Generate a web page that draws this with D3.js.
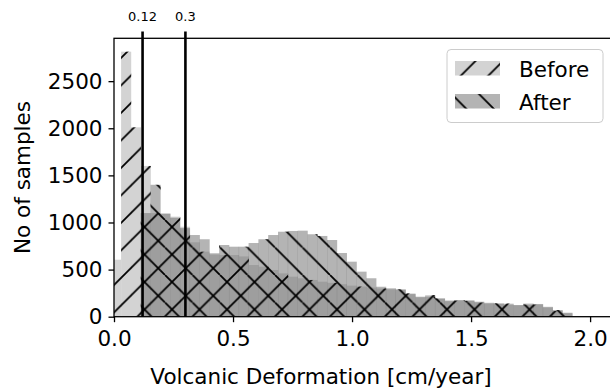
<!DOCTYPE html>
<html>
<head>
<meta charset="utf-8">
<script src="https://cdn.jsdelivr.net/npm/d3@7"></script>
<style>
  html, body { margin: 0; padding: 0; background: #fff; }
  svg text { font-family: "DejaVu Sans", sans-serif; fill: #000; }
</style>
</head>
<body>
<svg id="chart" width="610" height="389"></svg>
<script>
// Lower edges of the histogram bins (cm/year); the last entry closes the final bin
const binEdges = [-0.0114, 0.0298, 0.0710, 0.1122, 0.1534, 0.1946, 0.2358, 0.2770, 0.3182, 0.3594,
  0.4006, 0.4418, 0.4830, 0.5242, 0.5654, 0.6066, 0.6478, 0.6890, 0.7302, 0.7714,
  0.8126, 0.8538, 0.8950, 0.9362, 0.9774, 1.0186, 1.0598, 1.1010, 1.1422, 1.1834,
  1.2246, 1.2658, 1.3070, 1.3482, 1.3894, 1.4306, 1.4718, 1.5130, 1.5542, 1.5954,
  1.6366, 1.6778, 1.7190, 1.7602, 1.8014, 1.8426, 1.8838, 1.9250];

// Sample counts per bin
const beforeCounts = [605, 2813, 2010, 1600, 1100, 1100, 1062, 955, 790, 690,
  660, 655, 655, 640, 549, 531, 496, 460, 425, 408,
  390, 372, 360, 345, 330, 320, 310, 300, 290, 283,
  248, 205, 230, 190, 175, 170, 177, 150, 149, 135,
  140, 120, 142, 128, 106, 60, 35];
const afterCounts = [0, 0, 0, 1100, 1400, 1090, 1050, 940, 867, 822,
  673, 761, 743, 743, 782, 822, 867, 902, 910, 913,
  875, 857, 814, 676, 584, 478, 408, 318, 301, 291,
  240, 212, 215, 195, 165, 177, 168, 159, 142, 142,
  130, 124, 130, 135, 100, 71, 42];

const xTicks = [0.0, 0.5, 1.0, 1.5, 2.0];
const yTicks = [0, 500, 1000, 1500, 2000, 2500];
const thresholds = [0.12, 0.3];
const thresholdLabels = ["0.12", "0.3"];
const seriesNames = ["Before", "After"];

const svg = d3.select("#chart");
const margin = { left: 114, top: 38.3, right: 612, bottom: 316.7 };
const fontSize = 21.5;

const x = d3.scaleLinear().domain([0, 2.092]).range([margin.left, margin.right]);
const y = d3.scaleLinear().domain([0, 2955]).range([margin.bottom, margin.top]);

const defs = svg.append("defs");
defs.append("clipPath").attr("id", "plot-clip")
  .append("rect")
  .attr("x", margin.left).attr("y", margin.top)
  .attr("width", margin.right - margin.left).attr("height", margin.bottom - margin.top);

// Hatch patterns, anchored to the page so adjacent bars line up
const hatchSize = 27.5;
const hatchWidth = 1.8;
const fwd = defs.append("pattern").attr("id", "hatch-fwd")
  .attr("patternUnits", "userSpaceOnUse")
  .attr("width", hatchSize).attr("height", hatchSize)
  .attr("patternTransform", "translate(14,0)");
fwd.append("path")
  .attr("d", `M${-hatchSize},${hatchSize} L${hatchSize},${-hatchSize} M0,${2 * hatchSize} L${2 * hatchSize},0 M0,${hatchSize} L${hatchSize},0`)
  .attr("stroke", "#000").attr("stroke-width", hatchWidth);
const back = defs.append("pattern").attr("id", "hatch-back")
  .attr("patternUnits", "userSpaceOnUse")
  .attr("width", hatchSize).attr("height", hatchSize);
back.append("path")
  .attr("d", `M0,0 L${hatchSize},${hatchSize} M${-hatchSize},0 L0,${hatchSize} M${hatchSize},0 L${2 * hatchSize},${hatchSize}`)
  .attr("stroke", "#000").attr("stroke-width", hatchWidth);

const beforeBins = beforeCounts.map((v, i) => ({ x0: binEdges[i], x1: binEdges[i + 1], v }));
const afterBins = afterCounts.map((v, i) => ({ x0: binEdges[i], x1: binEdges[i + 1], v })).filter(d => d.v > 0);

const plot = svg.append("g").attr("clip-path", "url(#plot-clip)");

function bars(data, cls, fill, opacity) {
  plot.append("g").selectAll("rect." + cls)
    .data(data).join("rect")
    .attr("class", cls)
    .attr("x", d => x(d.x0))
    .attr("width", d => x(d.x1) - x(d.x0) + 0.3)
    .attr("y", d => y(d.v))
    .attr("height", d => y(0) - y(d.v))
    .attr("fill", fill)
    .attr("fill-opacity", opacity);
}

bars(beforeBins, "before", "#d3d3d3", 1);
bars(afterBins, "after", "#696969", 0.5);
bars(beforeBins, "before-hatch", "url(#hatch-fwd)", 1);
bars(afterBins, "after-hatch", "url(#hatch-back)", 1);

// Threshold markers
svg.append("g").selectAll("line")
  .data(thresholds).join("line")
  .attr("x1", d => x(d)).attr("x2", d => x(d))
  .attr("y1", 31.5).attr("y2", margin.bottom)
  .attr("stroke", "#000").attr("stroke-width", 2.6);
svg.append("g").selectAll("text")
  .data(thresholds).join("text")
  .attr("x", d => x(d)).attr("y", 21)
  .attr("text-anchor", "middle")
  .attr("font-size", 13)
  .text((d, i) => thresholdLabels[i]);

// Axes
const xAxis = svg.append("g")
  .attr("transform", `translate(0,${margin.bottom})`)
  .call(d3.axisBottom(x).tickValues(xTicks).tickFormat(d3.format(".1f")).tickSize(5.5).tickPadding(4));
const yAxis = svg.append("g")
  .attr("transform", `translate(${margin.left},0)`)
  .call(d3.axisLeft(y).tickValues(yTicks).tickFormat(d3.format("d")).tickSize(5.5).tickPadding(6));
[xAxis, yAxis].forEach(a => {
  a.select(".domain").remove();
  a.selectAll(".tick line").attr("stroke", "#000").attr("stroke-width", 1.3);
  a.selectAll(".tick text").attr("font-size", fontSize).attr("font-family", "DejaVu Sans, sans-serif");
});
xAxis.selectAll(".tick text").attr("dy", "0.9em");

// Frame
svg.append("rect")
  .attr("x", margin.left).attr("y", margin.top)
  .attr("width", margin.right - margin.left).attr("height", margin.bottom - margin.top)
  .attr("fill", "none").attr("stroke", "#000").attr("stroke-width", 1.3);

// Axis titles
svg.append("text")
  .attr("x", 321).attr("y", 384)
  .attr("text-anchor", "middle").attr("font-size", fontSize)
  .text("Volcanic Deformation [cm/year]");
svg.append("text")
  .attr("transform", `translate(30,${(margin.top + margin.bottom) / 2}) rotate(-90)`)
  .attr("text-anchor", "middle").attr("font-size", fontSize)
  .text("No of samples");

// Legend
const legend = svg.append("g");
legend.append("rect")
  .attr("x", 447).attr("y", 49.5).attr("width", 156).attr("height", 73).attr("rx", 4)
  .attr("fill", "#fff").attr("fill-opacity", 0.8)
  .attr("stroke", "#cccccc").attr("stroke-width", 1);
const entries = [
  { name: seriesNames[0], fill: "#d3d3d3", op: 1, hatch: "url(#hatch-fwd)", y: 61 },
  { name: seriesNames[1], fill: "#696969", op: 0.5, hatch: "url(#hatch-back)", y: 94 }
];
entries.forEach(e => {
  legend.append("rect").attr("x", 455).attr("y", e.y).attr("width", 45).attr("height", 14.5)
    .attr("fill", e.fill).attr("fill-opacity", e.op);
  legend.append("rect").attr("x", 455).attr("y", e.y).attr("width", 45).attr("height", 14.5)
    .attr("fill", e.hatch);
  legend.append("text").attr("x", 519).attr("y", e.y + 15.5).attr("font-size", fontSize).text(e.name);
});
</script>
</body>
</html>
